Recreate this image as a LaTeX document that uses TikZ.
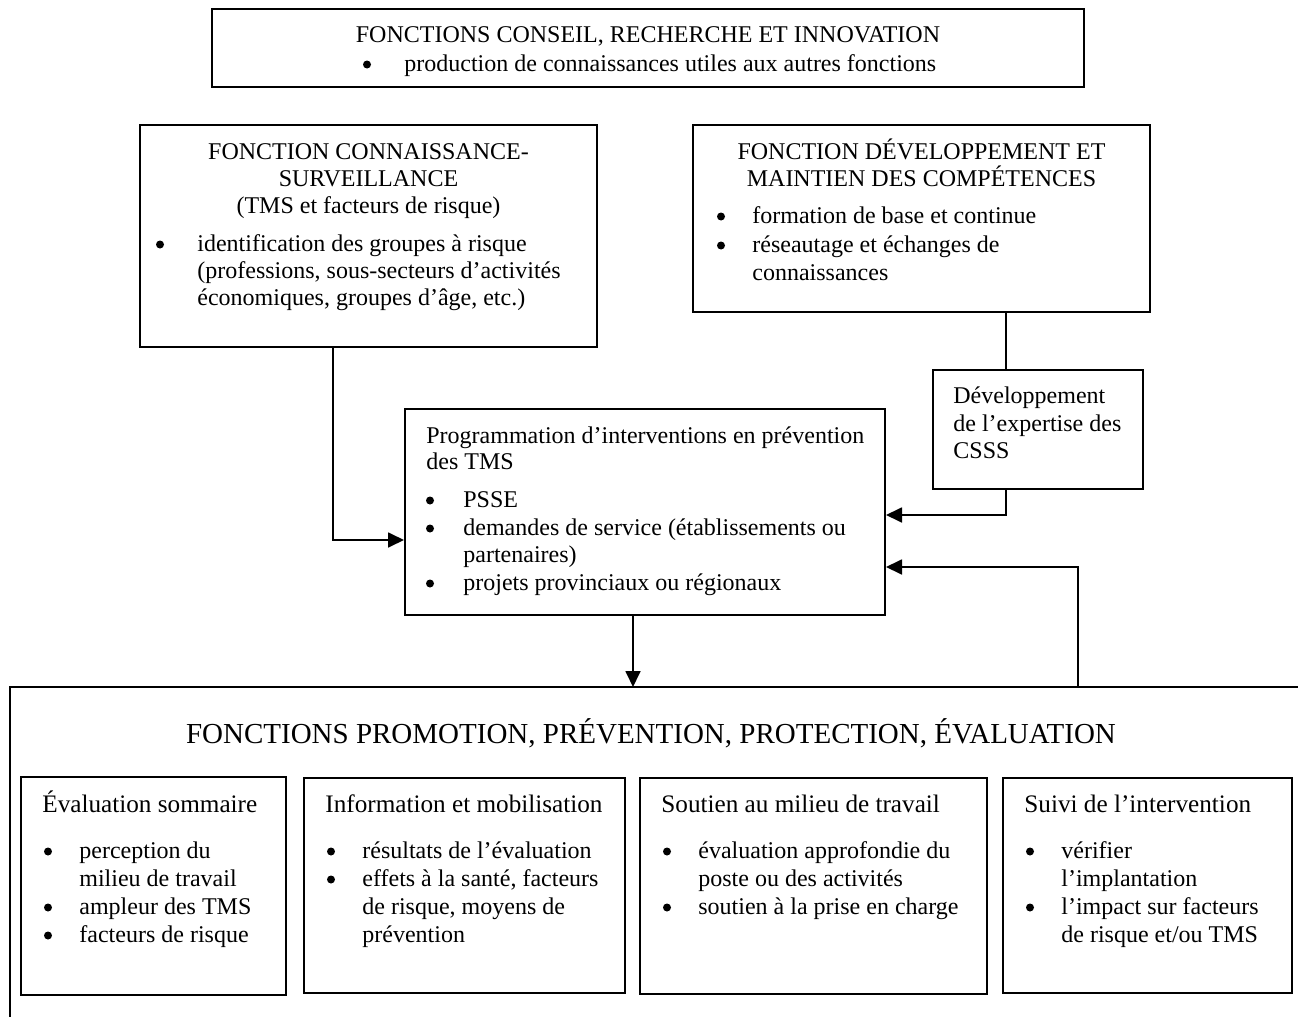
\documentclass[tikz,border=0pt]{standalone}
\usepackage{fontspec}
\setmainfont{Liberation Serif}
\usetikzlibrary{arrows.meta,fit}
\begin{document}
\begin{tikzpicture}[x=0.5pt,y=-0.5pt,
  box/.style={draw, line width=1pt, inner sep=0pt},
  conn/.style={draw, line width=0.9pt},
  arr/.style={conn, -{Triangle[length=8pt,width=7.5pt]}},
  txt/.style={anchor=base west, inner sep=0pt, font=\fontsize{12}{14}\selectfont},
  ctr/.style={anchor=base, inner sep=0pt, font=\fontsize{12}{14}\selectfont},
  hd/.style={anchor=base west, inner sep=0pt, font=\fontsize{12.6}{15}\selectfont},
  ttl/.style={anchor=base, inner sep=0pt, font=\fontsize{14.5}{17}\selectfont},
  bul/.style={circle, fill, inner sep=0pt, minimum size=4pt}]
\useasboundingbox (0,0) rectangle (1298,1017);
\fill[white] (0,0) rectangle (1298,1017);
\newcommand\bl[3]{\node[bul] (#1) at (#2,#3-6.5) {};}

% top box
\node[box, fit={(212,9)(1084,87)}] (top) {};
\node[ctr] (t1) at (648,42) {FONCTIONS CONSEIL, RECHERCHE ET INNOVATION};
\bl{tb1}{367}{71}
\node[txt] (t2) at (404,71) {production de connaissances utiles aux autres fonctions};

% connaissance-surveillance
\node[box, fit={(140,125)(597,347)}] (cs) {};
\node[ctr] (cs1) at (368.5,159) {FONCTION CONNAISSANCE-};
\node[ctr] (cs2) at (368.5,186) {SURVEILLANCE};
\node[ctr] (cs3) at (368.5,213) {(TMS et facteurs de risque)};
\bl{csb1}{160}{251}
\node[txt] (cs4) at (197,251) {identification des groupes à risque};
\node[txt] (cs5) at (197,278) {(professions, sous-secteurs d’activités};
\node[txt] (cs6) at (197,305) {économiques, groupes d’âge, etc.)};

% developpement
\node[box, fit={(693,125)(1150,312)}] (dev) {};
\node[ctr] (dv1) at (921.5,159) {FONCTION DÉVELOPPEMENT ET};
\node[ctr] (dv2) at (921.5,186) {MAINTIEN DES COMPÉTENCES};
\bl{dvb1}{721}{223}
\node[txt] (dv3) at (752,223) {formation de base et continue};
\bl{dvb2}{721}{252}
\node[txt] (dv4) at (752,252) {réseautage et échanges de};
\node[txt] (dv5) at (752,280) {connaissances};

% expertise CSSS
\node[box, fit={(933,370)(1143,489)}] (exp) {};
\node[txt] (ex1) at (953,403) {Développement};
\node[txt] (ex2) at (953,431) {de l’expertise des};
\node[txt] (ex3) at (953,458) {CSSS};

% programmation
\node[box, fit={(405,409)(885,615)}] (prog) {};
\node[txt] (p1) at (426,443) {Programmation d’interventions en prévention};
\node[txt] (p2) at (426,469) {des TMS};
\bl{pb1}{430}{507}
\node[txt] (p3) at (463,507) {PSSE};
\bl{pb2}{430}{535}
\node[txt] (p4) at (463,535) {demandes de service (établissements ou};
\node[txt] (p5) at (463,562) {partenaires)};
\bl{pb3}{430}{590}
\node[txt] (p6) at (463,590) {projets provinciaux ou régionaux};

% big frame
\coordinate (ftl) at (10,687);
\coordinate (ftr) at (1298,687);
\coordinate (fbl) at (10,1017);
\draw[line width=1pt] (fbl) -- (ftl) -- (ftr);
\node[ttl] (title) at (651,743) {FONCTIONS PROMOTION, PRÉVENTION, PROTECTION, ÉVALUATION};

% sub boxes
\node[box, fit={(21,777)(286,995)}] (ev) {};
\node[hd] (ev0) at (42,812) {Évaluation sommaire};
\bl{evb1}{48}{858}
\node[txt] (ev1) at (79,858) {perception du};
\node[txt] (ev2) at (79,886) {milieu de travail};
\bl{evb2}{48}{914}
\node[txt] (ev3) at (79,914) {ampleur des TMS};
\bl{evb3}{48}{942}
\node[txt] (ev4) at (79,942) {facteurs de risque};

\node[box, fit={(304,778)(625,993)}] (inf) {};
\node[hd] (in0) at (325,812) {Information et mobilisation};
\bl{inb1}{331}{858}
\node[txt] (in1) at (362,858) {résultats de l’évaluation};
\bl{inb2}{331}{886}
\node[txt] (in2) at (362,886) {effets à la santé, facteurs};
\node[txt] (in3) at (362,914) {de risque, moyens de};
\node[txt] (in4) at (362,942) {prévention};

\node[box, fit={(640,778)(987,994)}] (sou) {};
\node[hd] (so0) at (661,812) {Soutien au milieu de travail};
\bl{sob1}{667}{858}
\node[txt] (so1) at (698,858) {évaluation approfondie du};
\node[txt] (so2) at (698,886) {poste ou des activités};
\bl{sob2}{667}{914}
\node[txt] (so3) at (698,914) {soutien à la prise en charge};

\node[box, fit={(1003,778)(1292,993)}] (sui) {};
\node[hd] (su0) at (1024,812) {Suivi de l’intervention};
\bl{sub1}{1030}{858}
\node[txt] (su1) at (1061,858) {vérifier};
\node[txt] (su2) at (1061,886) {l’implantation};
\bl{sub2}{1030}{914}
\node[txt] (su3) at (1061,914) {l’impact sur facteurs};
\node[txt] (su4) at (1061,942) {de risque et/ou TMS};

% connectors
\coordinate (k1) at (333,540);
\draw[arr] (cs.south -| k1) |- (prog.west |- k1);
\coordinate (d1) at (1006,515);
\draw[conn] (dev.south -| d1) -- (exp.north -| d1);
\draw[arr] (exp.south -| d1) |- (prog.east |- d1);
\coordinate (r1) at (1078,567);
\draw[arr] (ftl -| r1) |- (prog.east |- r1);
\coordinate (d3) at (633,687);
\draw[arr] (prog.south -| d3) -- (ftl -| d3);
\end{tikzpicture}
\end{document}
